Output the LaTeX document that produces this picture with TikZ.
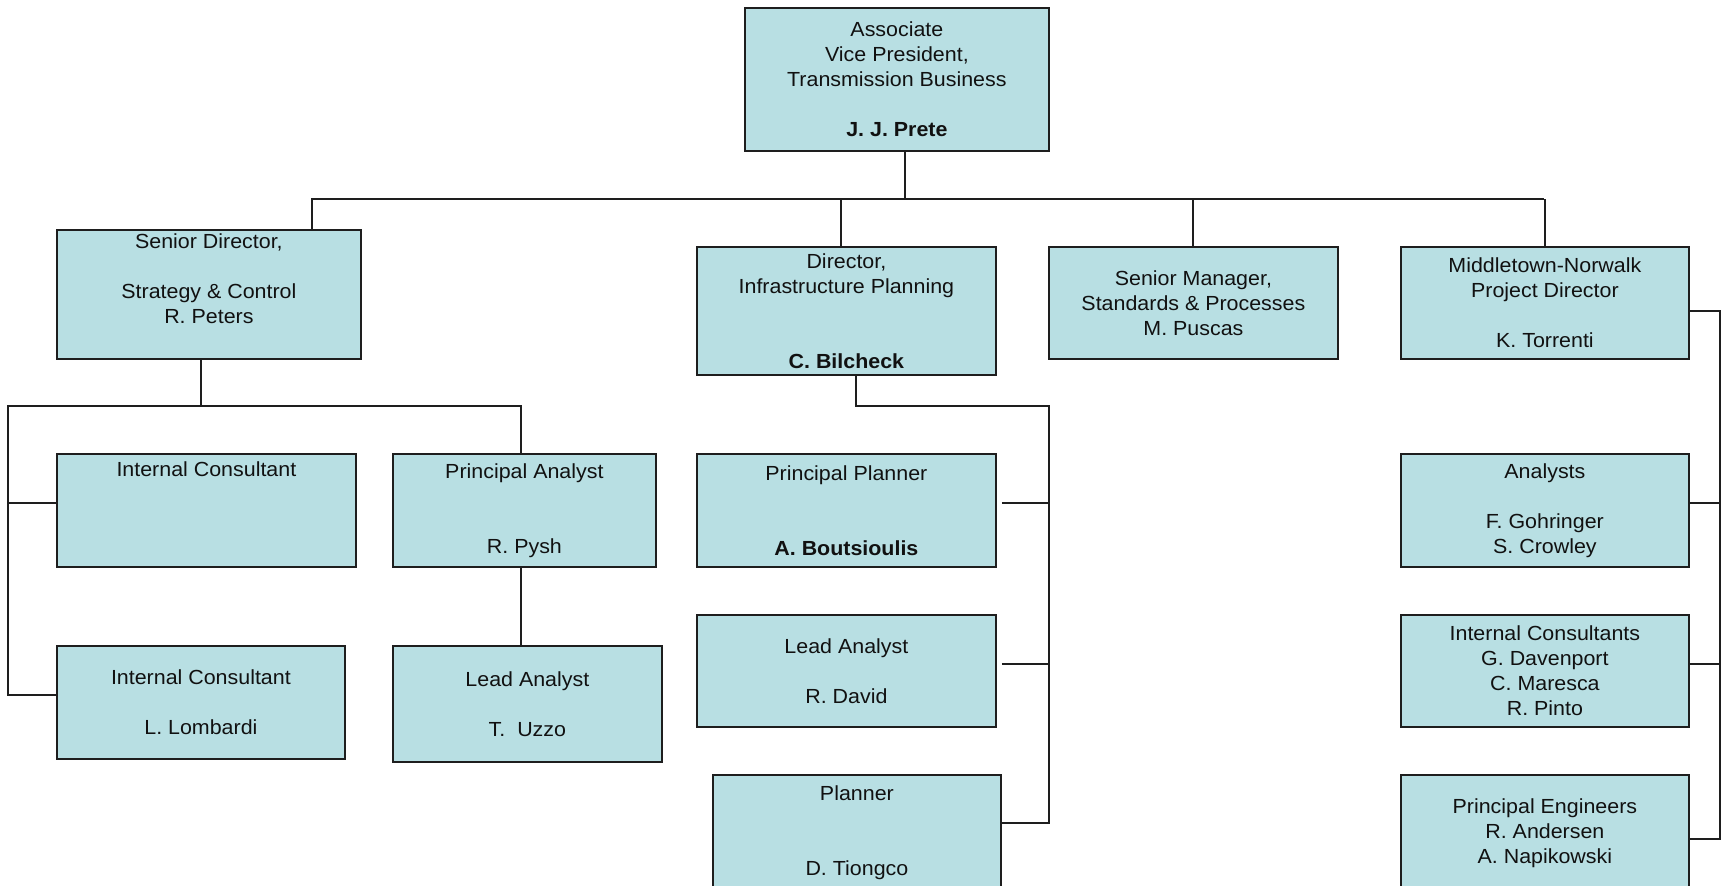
\documentclass[tikz,border=0pt]{standalone}
\usepackage{fontspec}
\setmainfont{Liberation Sans}[FakeStretch=1.05]
\usepackage{tikz}
\usetikzlibrary{calc}
\definecolor{boxfill}{HTML}{B8DFE3}
\definecolor{edge}{HTML}{1E1E1E}
\definecolor{ink}{HTML}{111111}
\tikzset{
  box/.style={draw=edge, fill=boxfill, line width=0.9pt, anchor=north west, align=center,
    inner sep=0pt, text=ink, font=\fontsize{10.2}{12.5}\selectfont},
  wh/.style 2 args={minimum width=#1*0.5pt, minimum height=#2*0.5pt},
  wire/.style={draw=edge, line width=1pt},
}

\begin{document}
\begin{tikzpicture}[x=0.5pt, y=-0.5pt]
\useasboundingbox (0,0) rectangle (1721,885);

\node[box, wh={304}{143}] (vp) at (744,7) {Associate\\Vice President,\\Transmission Business\\\strut\\\textbf{J. J. Prete}};

\node[box, wh={304}{129}] (sd) at (56,229) {Senior Director,\\\strut\\Strategy \& Control\\R. Peters\\\strut};
\node[box, wh={299}{128}] (dir) at (696,246) {Director,\\Infrastructure Planning\\\strut\\\strut\\\textbf{C. Bilcheck}};
\node[box, wh={289}{112}] (sm) at (1048,246) {Senior Manager,\\Standards \& Processes\\M. Puscas};
\node[box, wh={288}{112}] (mn) at (1400,246) {Middletown-Norwalk\\Project Director\\\strut\\K. Torrenti};

\node[box, wh={299}{113}] (ic1) at (56,453) {Internal Consultant\\\strut\\\strut\\\strut};
\node[box, wh={263}{113}] (pa) at (392,453) {Principal Analyst\\\strut\\\strut\\R. Pysh};
\node[box, wh={288}{113}] (ic2) at (56,645) {Internal Consultant\\\strut\\L. Lombardi};
\node[box, wh={269}{116}] (la) at (392,645) {Lead Analyst\\\strut\\T.~ Uzzo};

\node[box, wh={299}{113}] (pp) at (696,453) {Principal Planner\\\strut\\\strut\\\textbf{A. Boutsioulis}};
\node[box, wh={299}{112}] (ld) at (696,614) {Lead Analyst\\\strut\\R. David};
\node[box, wh={288}{116}] (pl) at (712,774) {Planner\\\strut\\\strut\\D. Tiongco};

\node[box, wh={288}{113}] (an) at (1400,453) {Analysts\\\strut\\F. Gohringer\\S. Crowley};
\node[box, wh={288}{112}] (ic) at (1400,614) {Internal Consultants\\G. Davenport\\C. Maresca\\R. Pinto};
\node[box, wh={288}{116}] (pe) at (1400,774) {Principal Engineers\\R. Andersen\\A. Napikowski};

\coordinate (bL) at (312,199);
\coordinate (bR) at (1544,199);
\coordinate (sdL) at (8,406);
\coordinate (dv) at (1049,406);
\coordinate (rv) at (1720,0);

\draw[wire] ([xshift=4pt]vp.south) -- ([xshift=4pt]vp.south |- bL);
\draw[wire] (bL |- sd.north) -- (bL) -- (bR);
\draw[wire] ([xshift=-2.75pt]dir.north) -- ([xshift=-2.75pt]dir.north |- bL);
\foreach \n in {sm,mn}
  \draw[wire] (\n.north) -- (\n.north |- bL);

\draw[wire] ([xshift=-4pt]sd.south) -- ([xshift=-4pt]sd.south |- sdL);
\draw[wire] ([yshift=3.5pt]ic2.west) -| (sdL) -- ([xshift=-1.5pt]pa.north |- sdL) -- ([xshift=-1.5pt]pa.north);
\draw[wire] ([yshift=3.5pt]ic1.west) -- ([yshift=3.5pt]ic1.west -| sdL);
\draw[wire] ([xshift=-1.5pt]pa.south) -- ([xshift=-1.5pt]pa.south |- la.north);

\draw[wire] ([xshift=5pt]dir.south) |- (dv) |- ([yshift=5pt]pl.east);
\foreach \n in {pp,ld}
  \draw[wire, shorten <=2.5pt] ([yshift=3.5pt]\n.east) -- ([yshift=3.5pt]\n.east -| dv);

\draw[wire] ([yshift=-4pt]mn.east) -| ([yshift=-3pt]pe.east -| rv) -- ([yshift=-3pt]pe.east);
\foreach \n in {an,ic}
  \draw[wire] ([yshift=3.5pt]\n.east) -- ([yshift=3.5pt]\n.east -| rv);
\end{tikzpicture}
\end{document}
